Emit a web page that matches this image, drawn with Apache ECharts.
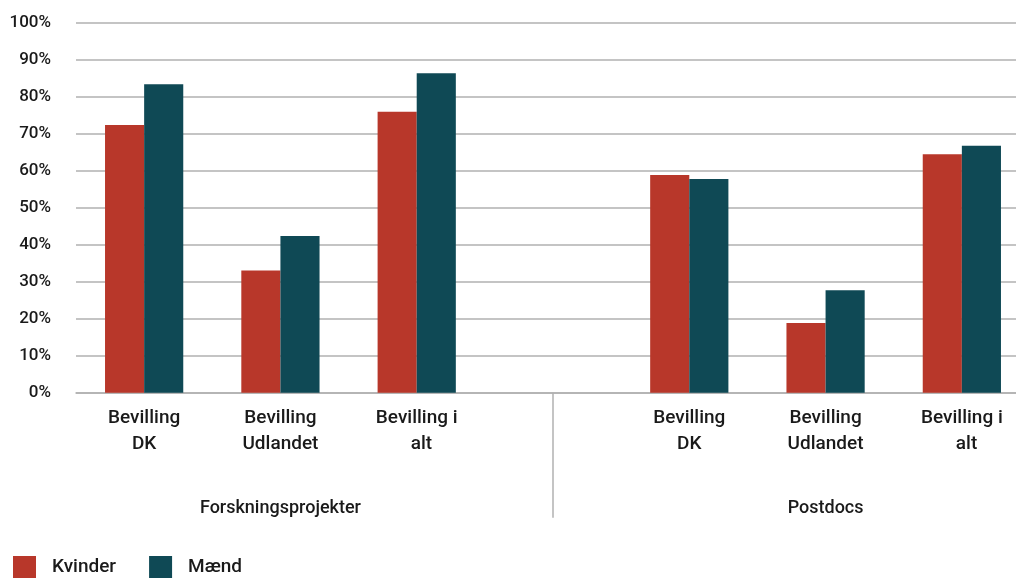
<!DOCTYPE html>
<html>
<head>
<meta charset="utf-8">
<script src="https://cdn.jsdelivr.net/npm/echarts@6/dist/echarts.min.js"></script>
<style>html,body{margin:0;padding:0;background:#fff}#c{width:1016px;height:578px}</style>
</head>
<body>
<div id="c"></div>
<script>
const categories = ['Bevilling\nDK', 'Bevilling\nUdlandet', 'Bevilling i\n  alt', '', 'Bevilling\nDK', 'Bevilling\nUdlandet', 'Bevilling i\n  alt'];
const groups = ['', 'Forskningsprojekter', '', '', '', 'Postdocs', ''];
const kvinder = [72.3, 33.0, 75.9, null, 58.8, 18.8, 64.4];
const maend = [83.3, 42.3, 86.3, null, 57.7, 27.7, 66.7];
const seriesNames = ['Kvinder', 'Mænd'];
const colors = ['#b8372a', '#0f4955'];

const font = 'Roboto, "Noto Sans", sans-serif';
const chart = echarts.init(document.getElementById('c'));
chart.setOption({
  animation: false,
  color: colors,
  grid: { left: 76, width: 954, top: 22.5, height: 370.2, outerBoundsMode: 'none', containLabel: false },
  legend: {
    left: 13, top: 556, padding: 0,
    itemWidth: 23, itemHeight: 22, itemGap: 33,
    icon: 'rect',
    textStyle: { fontFamily: font, fontSize: 19, fontWeight: 500, color: '#1a1a1a', padding: [0, 0, 0, 11] },
    data: seriesNames
  },
  xAxis: [{
    type: 'category',
    data: categories,
    axisLine: { lineStyle: { color: '#b0b0b0', width: 1.5 } },
    axisTick: { show: false },
    axisLabel: { interval: 0, margin: 13, fontFamily: font, fontSize: 19, fontWeight: 500, lineHeight: 26, color: '#1a1a1a', align: 'center' }
  }, {
    type: 'category',
    data: groups,
    position: 'bottom',
    axisLine: { show: false },
    axisTick: { show: true, alignWithLabel: true, length: 125, interval: (i) => i === 3, lineStyle: { color: '#b0b0b0', width: 1.5 } },
    axisLabel: { interval: 0, margin: 105, fontFamily: font, fontSize: 18, fontWeight: 500, lineHeight: 22, color: '#1a1a1a' }
  }],
  yAxis: {
    type: 'value', min: 0, max: 100, interval: 10,
    axisLine: { show: false }, axisTick: { show: false },
    splitLine: { lineStyle: { color: '#b0b0b0', width: 1.5 } },
    axisLabel: { formatter: '{value}%', margin: 25, fontFamily: font, fontSize: 17, fontWeight: 500, color: '#1a1a1a' }
  },
  series: [
    { name: seriesNames[0], type: 'bar', data: kvinder, barGap: '0%', barCategoryGap: '42.6%' },
    { name: seriesNames[1], type: 'bar', data: maend, barGap: '0%', barCategoryGap: '42.6%' }
  ]
});
</script>
</body>
</html>
